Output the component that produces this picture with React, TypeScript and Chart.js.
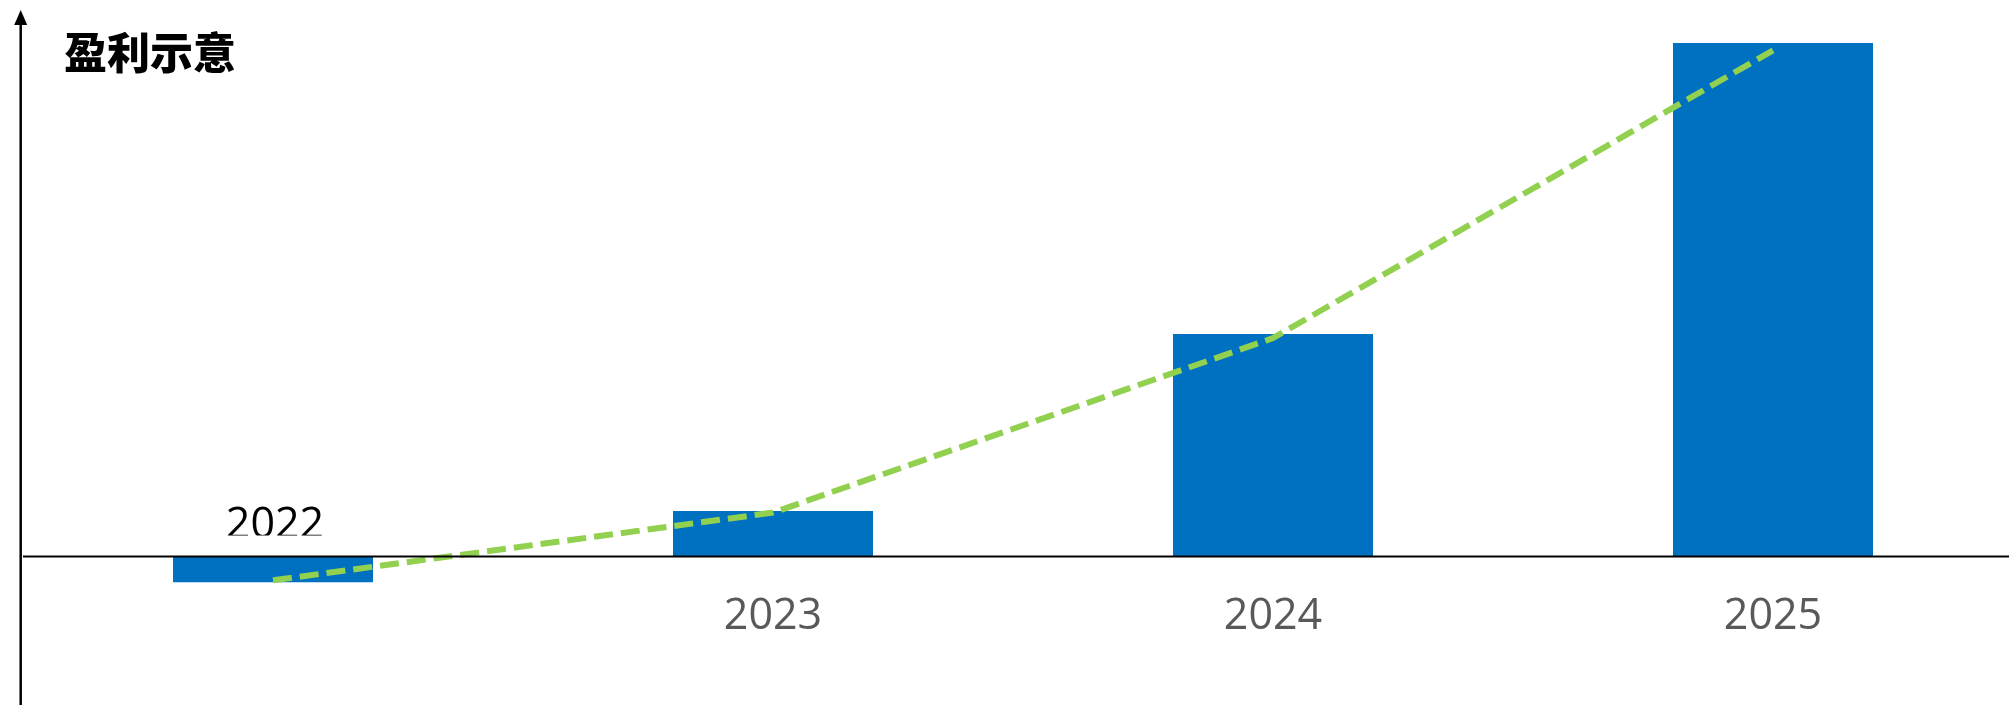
import React, { useEffect, useRef } from "react";
import { Chart, registerables } from "chart.js";

Chart.register(...registerables);

const categories = ["2022", "2023", "2024", "2025"];
const barValues = [-5.07, 8.8, 43.3, 100];
const lineValues = [-4.7, 8.5, 42.5, 98.6];
const yMin = -29;
const yMax = 108.4;
const title = "盈利示意";

const W = 2046;
const H = 705;

const decorPlugin = {
  id: "decor",
  afterDatasetsDraw(chart: any) {
    const { ctx, scales, chartArea } = chart;
    const x = scales.x;
    const y = scales.y;
    const zeroY = Math.round(y.getPixelForValue(0)) + 0.5;
    ctx.save();
    // zero line
    ctx.strokeStyle = "#000000";
    ctx.lineWidth = 2;
    ctx.beginPath();
    ctx.moveTo(chartArea.left, zeroY);
    ctx.lineTo(chart.width, zeroY);
    ctx.stroke();
    // vertical axis with arrow
    const ax = 20.7;
    ctx.lineWidth = 2.5;
    ctx.beginPath();
    ctx.moveTo(ax, 22);
    ctx.lineTo(ax, H);
    ctx.stroke();
    ctx.fillStyle = "#000000";
    ctx.beginPath();
    ctx.moveTo(ax, 10);
    ctx.lineTo(ax - 6.5, 25);
    ctx.lineTo(ax + 6.5, 25);
    ctx.closePath();
    ctx.fill();
    // category labels
    ctx.textAlign = "center";
    ctx.textBaseline = "middle";
    categories.forEach((c, i) => {
      const px = x.getPixelForValue(i);
      if (barValues[i] < 0) {
        ctx.save();
        ctx.beginPath();
        ctx.rect(px - 100, zeroY - 80, 200, 59);
        ctx.clip();
        ctx.fillStyle = "#000000";
        ctx.font = "43px 'Open Sans'";
        ctx.fillText(c, px + 2, zeroY - 31);
        ctx.restore();
      } else {
        ctx.fillStyle = "#595959";
        ctx.font = "43px 'Open Sans'";
        ctx.fillText(c, px, zeroY + 60);
      }
    });
    // title
    ctx.fillStyle = "#000000";
    ctx.textAlign = "left";
    ctx.font = "900 43px 'Noto Sans CJK SC'";
    ctx.fillText(title, 64, 53);
    ctx.restore();
  },
};

export default function App() {
  const ref = useRef<HTMLCanvasElement>(null);
  useEffect(() => {
    document.body.style.margin = "0";
    const chart = new Chart(ref.current as HTMLCanvasElement, {
      type: "bar",
      data: {
        labels: categories,
        datasets: [
          {
            type: "line",
            data: lineValues,
            borderColor: "#92D050",
            borderWidth: 6,
            borderDash: [19, 8],
            pointRadius: 0,
            tension: 0,
            fill: false,
            order: 0,
          } as any,
          {
            type: "bar",
            data: barValues,
            backgroundColor: "#0070C0",
            borderWidth: 0,
            categoryPercentage: 1,
            barPercentage: 0.4,
            order: 1,
          },
        ],
      },
      options: {
        animation: false,
        responsive: false,
        devicePixelRatio: 1,
        layout: { padding: { left: 23, right: 23, top: 0, bottom: 0 } },
        plugins: { legend: { display: false }, tooltip: { enabled: false }, title: { display: false } },
        scales: {
          x: { display: false, offset: true },
          y: { display: false, min: yMin, max: yMax },
        },
      },
      plugins: [decorPlugin],
    });
    return () => chart.destroy();
  }, []);
  return (
    <div style={{ position: "fixed", left: 0, top: 0, width: 2009, height: 705, overflow: "hidden", background: "#fff" }}>
      <canvas ref={ref} width={W} height={H} style={{ width: W, height: H, display: "block" }} />
    </div>
  );
}
